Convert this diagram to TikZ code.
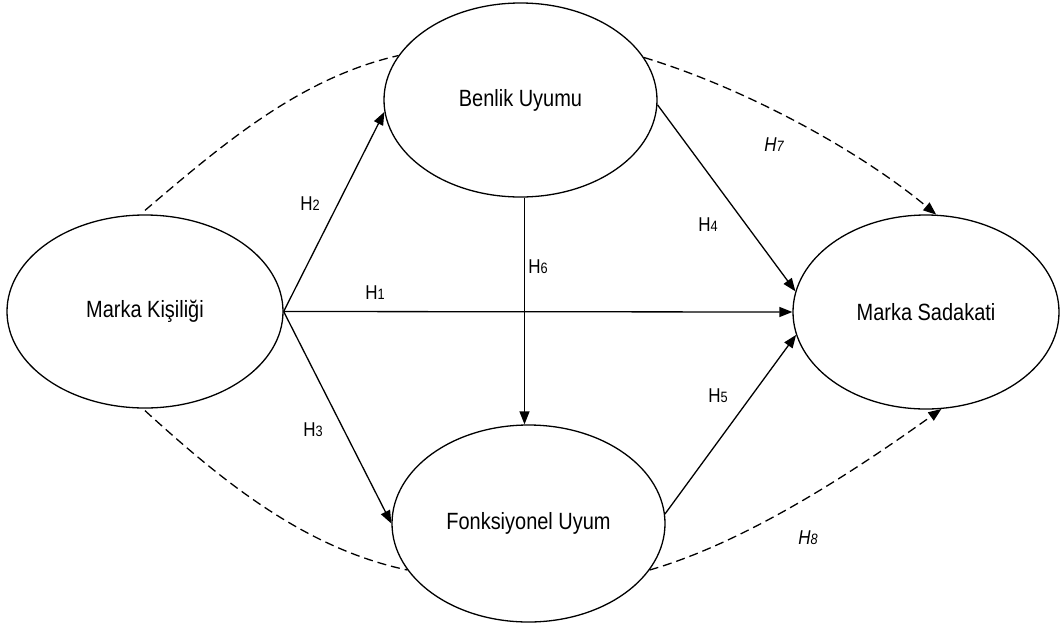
\documentclass[tikz,border=0pt]{standalone}
\usepackage{fontspec}
\setmainfont{Liberation Sans}[FakeStretch=0.85]
\usetikzlibrary{arrows.meta,shapes.geometric}
\newcommand\hlab[1]{\fontsize{20}{24}\selectfont H\fontsize{15}{18}\selectfont #1}
\begin{document}
\begin{tikzpicture}[x=1pt,y=-1pt,
  construct/.style={ellipse,draw,line width=1.3pt,inner sep=0pt,
    font=\fontsize{23.5}{27}\selectfont},
  link/.style={line width=1.3pt,-{Triangle[length=13pt,width=10pt]}},
  dlink/.style={line width=1.3pt,dash pattern=on 9pt off 5pt},
  lab/.style={inner sep=0pt,anchor=center}]
\useasboundingbox (0,0) rectangle (1061,625);
\node[construct,minimum width=276pt,minimum height=193pt] (mk) at (145,311.5) {Marka Kişiliği};
\node[construct,minimum width=273pt,minimum height=194pt] (bu) at (520.5,100) {Benlik Uyumu};
\node[construct,minimum width=273pt,minimum height=197pt] (fu) at (528.5,523.5) {Fonksiyonel Uyum};
\node[construct,minimum width=266pt,minimum height=194pt] (ms) at (926,312) {Marka Sadakati};
% solid arrows
\draw[link] (mk.east) -- (ms.west);
\draw[link] (mk.east) -- (bu.185);
\draw[link] (mk.east) -- (fu.west);
\draw[link] ([xshift=4pt]bu.south) -- ([xshift=-4pt]fu.north);
\draw[link] (bu.358) -- (ms.171);
\draw[link] (fu.4) -- (ms.190);
% dashed curves
\draw[dlink] ([yshift=4pt]mk.north) .. controls (223,144) and (300,78) .. (bu.160);
\draw[dlink] ([yshift=-2pt]mk.south) .. controls (220,479) and (303,548) .. (fu.201);
\draw[dlink,-{Triangle[length=13pt,width=10pt]}] (bu.19) .. controls (745,88) and (860,151) .. (ms.84);
\draw[dlink,-{Triangle[length=13pt,width=10pt]}] (fu.-21) .. controls (750,541) and (860,467) .. (ms.-81);
% labels
\node[lab] (h1) at (375,293) {\hlab{1}};
\node[lab] (h2) at (310,204) {\hlab{2}};
\node[lab] (h3) at (313,430) {\hlab{3}};
\node[lab] (h4) at (708,225) {\hlab{4}};
\node[lab] (h5) at (718,396) {\hlab{5}};
\node[lab] (h6) at (538,267) {\hlab{6}};
\node[lab] (h7) at (774,145) {\itshape\hlab{7}};
\node[lab] (h8) at (808,538) {\itshape\hlab{8}};
\end{tikzpicture}
\end{document}
